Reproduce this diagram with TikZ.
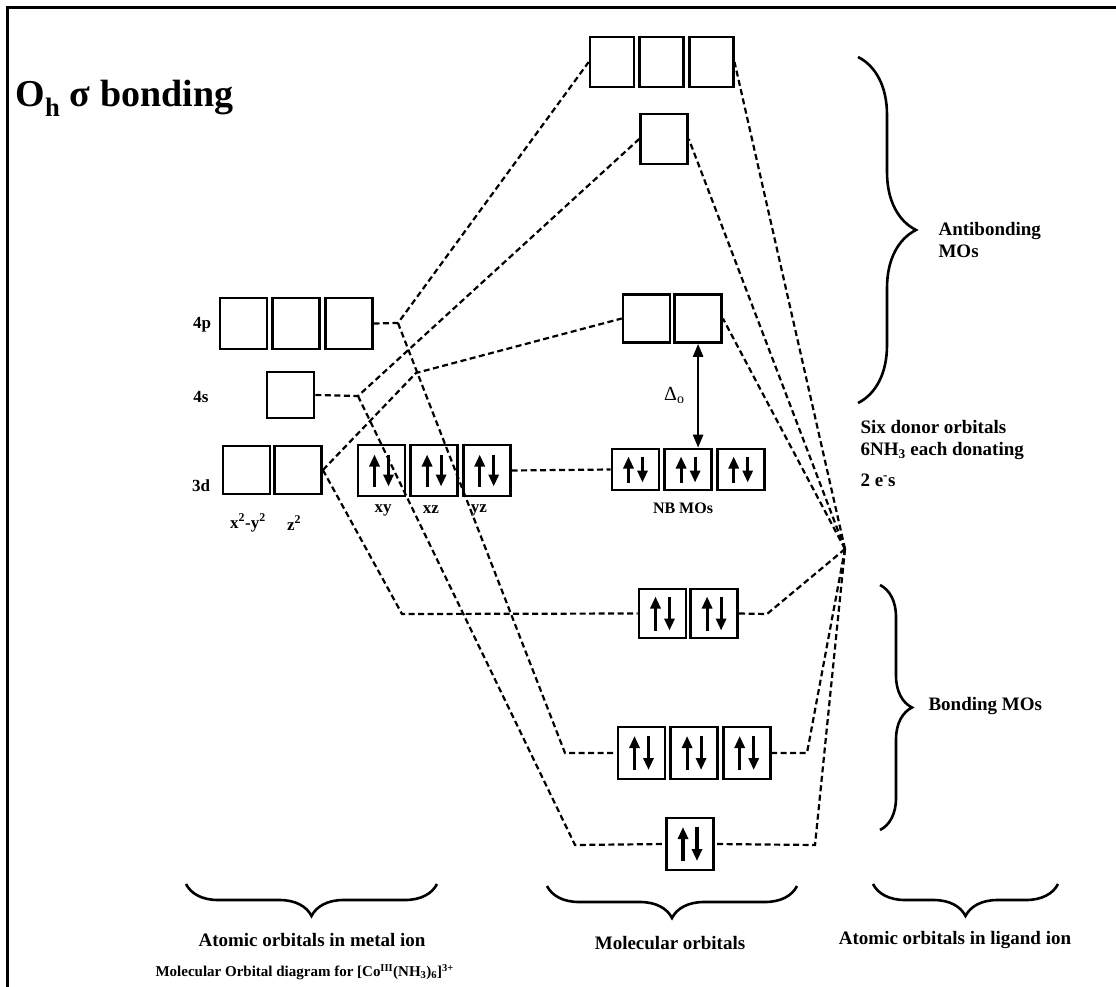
\documentclass[tikz,border=0pt]{standalone}
\usepackage{fontspec}
\setmainfont{Liberation Serif}
\usetikzlibrary{positioning,arrows.meta,decorations.pathreplacing}

\tikzset{
  orb/.style={draw, line width=2.6pt, minimum width=47pt, minimum height=50pt, inner sep=0pt},
  link/.style={line width=2.2pt, dash pattern=on 6pt off 3.5pt},
  spin/.style={line width=3.2pt, -{Triangle[length=12pt,width=10pt]}},
  brc/.style={decorate, decoration={brace, amplitude=#1}, line width=2.6pt},
  lbl/.style={font=\fontsize{17}{17}\selectfont\bfseries},
  note/.style={font=\fontsize{19}{22}\selectfont\bfseries, align=left},
  foot/.style={font=\fontsize{19}{19}\selectfont\bfseries},
}

% electron pair (up, down) in box #1, half length #2
\newcommand{\pair}[2]{%
  \draw[spin] ([xshift=-7pt,yshift=-#2pt]#1.center) -- ([xshift=-7pt,yshift=#2pt]#1.center);
  \draw[spin] ([xshift=7pt,yshift=#2pt]#1.center) -- ([xshift=7pt,yshift=-#2pt]#1.center);
}

\begin{document}
\begin{tikzpicture}[x=1pt, y=-1pt, node distance=3pt]
\useasboundingbox (0,0) rectangle (1116,987);
\draw[line width=3pt] (7,990) -- (7,8) -- (1120,8);
\node[anchor=base west, font=\fontsize{38}{40}\selectfont\bfseries] (title) at (12,107) {O\textsubscript{h} σ bonding};

% metal ion orbitals
\node[orb, minimum height=51pt] (p1) at (243.5,323.5) {};
\node[orb, minimum height=51pt, right=of p1] (p2) {};
\node[orb, minimum height=51pt, right=of p2] (p3) {};
\node[orb, minimum height=46pt] (s4) at (290.5,395) {};
\node[orb, minimum height=48pt] (d1) at (246.5,470) {};
\node[orb, minimum height=48pt, right=2pt of d1] (d2) {};
\node[orb, minimum height=51pt] (t1) at (381.5,470.5) {};
\node[orb, minimum height=51pt, right=of t1] (t2) {};
\node[orb, minimum height=51pt, right=of t2] (t3) {};
\node[lbl] at (202,325) {4p};
\node[lbl] at (201,397) {4s};
\node[lbl] at (201,486) {3d};
\node[lbl] at (248,523) {x\textsuperscript{2}-y\textsuperscript{2}};
\node[lbl] at (294,523) {z\textsuperscript{2}};
\node[lbl] at (383,510) {xy};
\node[lbl] at (431,510) {xz};
\node[lbl] at (479,510) {yz};

% molecular orbitals
\node[orb, minimum width=44pt] (au1) at (612,62) {};
\node[orb, minimum width=44pt, right=of au1] (au2) {};
\node[orb, minimum width=44pt, right=of au2] (au3) {};
\node[orb] (ag) at (664,139) {};
\node[orb, minimum height=48pt] (ae1) at (646.5,318.5) {};
\node[orb, minimum height=48pt, right=2pt of ae1] (ae2) {};
\node[orb, minimum height=41pt] (nb1) at (635.5,469.5) {};
\node[orb, minimum height=41pt, right=of nb1] (nb2) {};
\node[orb, minimum height=41pt, right=of nb2] (nb3) {};
\node[orb, minimum height=49pt] (be1) at (662.5,613.5) {};
\node[orb, minimum height=49pt, right=2pt of be1] (be2) {};
\node[orb, minimum height=52pt] (bu1) at (641.5,753) {};
\node[orb, minimum height=52pt, right=of bu1] (bu2) {};
\node[orb, minimum height=52pt, right=of bu2] (bu3) {};
\node[orb, minimum height=52pt] (bg) at (690,844) {};
\node[lbl, font=\fontsize{16}{16}\selectfont\bfseries] at (683,508) {NB MOs};

% crystal field gap
\draw[line width=2.4pt, {Triangle[length=13pt,width=10pt]}-{Triangle[length=13pt,width=10pt]}]
  (ae2.south) -- (ae2.south |- nb2.north)
  node[midway, left=9pt, font=\fontsize{20}{20}\selectfont] {Δ\textsubscript{o}};

% correlation lines
\coordinate (jp) at (398,323);
\coordinate (js) at (358,396);
\coordinate (jd) at (416,373);
\coordinate (jpb) at (565,753);
\coordinate (jsb) at (575,845);
\coordinate (jdb) at (402,614);
\coordinate (lig) at (845,549);
\coordinate (le) at (767,614);
\coordinate (lu) at (807,753);
\coordinate (la) at (815,845);
\draw[link] (p3.east) -- (jp) -- (au1.west);
\draw[link] (jp) -- (jpb) -- (bu1.west);
\draw[link] (s4.east) -- (js) -- (ag.west);
\draw[link] (js) -- (jsb) -- (bg.west);
\draw[link] (d2.east) -- (jd) -- (ae1.west);
\draw[link] (d2.east) -- (jdb) -- (be1.west);
\draw[link] (t3.east) -- (nb1.west);
\draw[link] (lig) -- (au3.east);
\draw[link] (lig) -- (ag.east);
\draw[link] (lig) -- (ae2.east);
\draw[link] (lig) -- (le) -- (be2.east);
\draw[link] (lig) -- (lu) -- (bu3.east);
\draw[link] (lig) -- (la) -- (bg.east);

% electrons
\pair{t1}{16} \pair{t2}{16} \pair{t3}{16}
\pair{nb1}{13} \pair{nb2}{13} \pair{nb3}{13}
\pair{be1}{17} \pair{be2}{17}
\pair{bu1}{17} \pair{bu2}{17} \pair{bu3}{17}
\pair{bg}{17}

% braces and notes
\draw[brc=58] (858,57) -- (858,403);
\draw[brc=32] (880,585) -- (880,830);
\node[note, anchor=west] at (935,240) {Antibonding\\MOs};
\node[note, anchor=west] at (925,706) {Bonding MOs};
\node[note, anchor=west] at (857,427) {Six donor orbitals};
\node[note, anchor=west] at (857,451) {6NH\textsubscript{3} each donating};
\node[note, anchor=west] at (857,480) {2 e\textsuperscript{-}s};

\draw[brc=32] (437,884) -- (186,884);
\draw[brc=32] (797,886) -- (547,886);
\draw[brc=32] (1058,884) -- (873,884);
\node[foot] at (312,940) {Atomic orbitals in metal ion};
\node[foot] at (670,943) {Molecular orbitals};
\node[foot] at (955,940) {Atomic orbitals in ligand ion};
\node[anchor=west, font=\fontsize{15}{15}\selectfont\bfseries] at (152,972)
  {Molecular Orbital diagram for [Co\textsuperscript{III}(NH\textsubscript{3})\textsubscript{6}]\textsuperscript{3+}};
\end{tikzpicture}
\end{document}
